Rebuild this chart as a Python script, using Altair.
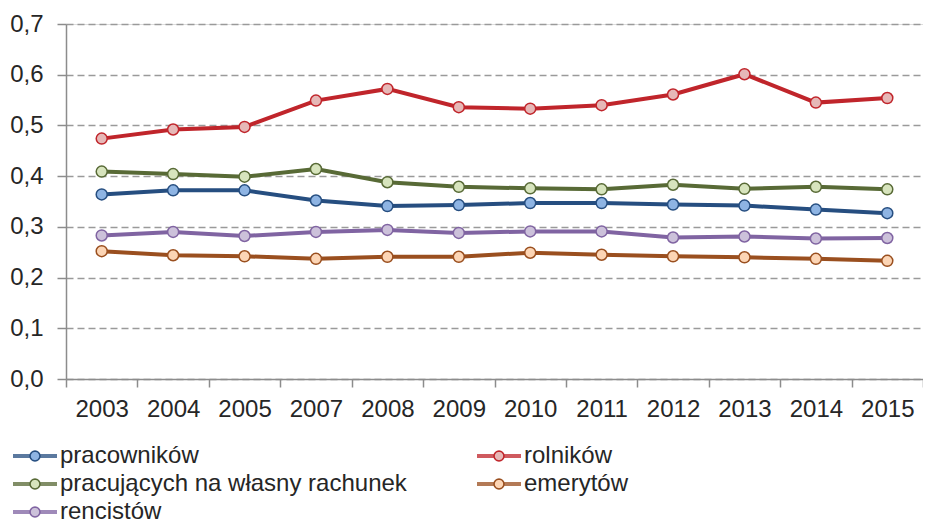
import math
import altair as alt
import pandas as pd

years = ["2003", "2004", "2005", "2007", "2008", "2009", "2010", "2011", "2012", "2013", "2014", "2015"]
# order fills the legend column by column: left column first, then right column
series_names = ["pracowników", "pracujących na własny rachunek", "rencistów", "rolników", "emerytów"]
pracownikow = [0.364, 0.372, 0.372, 0.352, 0.341, 0.343, 0.347, 0.347, 0.344, 0.342, 0.334, 0.327]
pracujacych = [0.409, 0.404, 0.399, 0.414, 0.388, 0.379, 0.376, 0.374, 0.383, 0.375, 0.379, 0.374]
rencistow = [0.283, 0.290, 0.282, 0.290, 0.294, 0.288, 0.291, 0.291, 0.279, 0.281, 0.277, 0.278]
rolnikow = [0.474, 0.492, 0.497, 0.549, 0.572, 0.536, 0.533, 0.540, 0.561, 0.601, 0.545, 0.554]
emerytow = [0.252, 0.244, 0.242, 0.237, 0.241, 0.241, 0.249, 0.245, 0.242, 0.240, 0.237, 0.233]
line_colors = ["#264E80", "#586A36", "#8064A2", "#C0252B", "#9A4F1F"]
fill_colors = ["#8EB4E3", "#D7E4BD", "#CCC1DA", "#E6B8B7", "#FCD5B5"]

all_values = [pracownikow, pracujacych, rencistow, rolnikow, emerytow]
rows = []
for name, vals in zip(series_names, all_values):
    for y, v in zip(years, vals):
        rows.append({"rok": y, "seria": name, "wartosc": v})
df = pd.DataFrame(rows)

FONT = "Liberation Sans"
TXT = "#262626"
AXC = "#8C8C8C"

x_enc = alt.X(
    "rok:N",
    sort=years,
    scale=alt.Scale(paddingInner=0, paddingOuter=0),
    axis=alt.Axis(
        title=None,
        labelAngle=0,
        tickBand="extent",
        grid=False,
        labelFont=FONT,
        labelFontSize=24,
        labelColor=TXT,
        labelPadding=10,
        tickSize=8,
        tickColor=AXC,
        tickWidth=1.5,
        domainColor=AXC,
        domainWidth=1.5,
    ),
)
y_enc = alt.Y(
    "wartosc:Q",
    scale=alt.Scale(domain=[0, 0.7], nice=False, zero=True),
    axis=alt.Axis(
        title=None,
        values=[0, 0.1, 0.2, 0.3, 0.4, 0.5, 0.6, 0.7],
        labelExpr="replace(format(datum.value, '.1f'), '.', ',')",
        labelFont=FONT,
        labelFontSize=24,
        labelColor=TXT,
        labelPadding=14,
        tickSize=9,
        tickColor=AXC,
        tickWidth=1.5,
        domainColor=AXC,
        domainWidth=1.5,
        grid=True,
        gridColor="#9A9A9A",
        gridWidth=1.5,
        gridDash=[7, 4],
    ),
)

stroke_scale = alt.Scale(domain=series_names, range=line_colors)
fill_scale = alt.Scale(domain=series_names, range=fill_colors)

# legend symbol: a thick line with a small circle in the middle (polygonal circle)
r = 0.45
poly = []
for i in range(16):
    a = 2 * math.pi * i / 16
    poly.append(f"{r * math.cos(a):.3f},{r * math.sin(a):.3f}")
circle_path = "M" + "L".join(poly) + "Z"
sym_path = ("M-2,-0.09L-0.45,-0.09M-2,0.09L-0.45,0.09"
            "M0.45,-0.09L2,-0.09M0.45,0.09L2,0.09" + circle_path)

legend = alt.Legend(
    title=None,
    orient="none",
    legendX=-53,
    legendY=420,
    columns=2,
    columnPadding=67,
    rowPadding=4,
    padding=0,
    symbolType=sym_path,
    symbolSize=484,
    symbolStrokeWidth=1.5,
    symbolOffset=10,
    labelOffset=13,
    labelFont=FONT,
    labelFontSize=24,
    labelColor=TXT,
    labelLimit=600,
)

lines = alt.Chart(df).mark_line(strokeWidth=4).encode(
    x=x_enc,
    y=y_enc,
    stroke=alt.Stroke("seria:N", scale=stroke_scale, legend=legend),
    detail="seria:N",
)

points = alt.Chart(df).mark_point(filled=True, size=121, strokeWidth=1.5, opacity=1).encode(
    x=x_enc,
    y=y_enc,
    fill=alt.Fill("seria:N", scale=fill_scale, legend=legend),
    stroke=alt.Stroke("seria:N", scale=stroke_scale, legend=legend),
)

chart = (
    alt.layer(lines, points)
    .properties(
        width=857,
        height=355,
        autosize=alt.AutoSizeParams(type="none"),
        padding={"left": 58, "top": 16, "right": 0, "bottom": 144},
    )
    .configure_view(stroke=None)
    .configure(background="white")
)

chart.save("out.html", embed_options={"renderer": "svg", "actions": False})
